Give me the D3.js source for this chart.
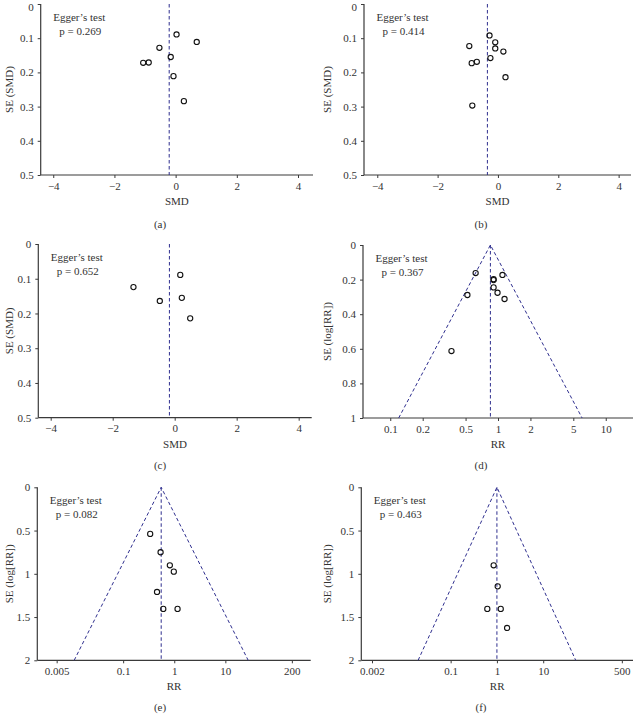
<!DOCTYPE html>
<html><head><meta charset="utf-8">
<script src="https://cdn.jsdelivr.net/npm/d3@7"></script>
<style>
html,body{margin:0;padding:0;background:#fff;}
svg text{font-family:"Liberation Serif","Times New Roman",serif;fill:#333;}
</style></head>
<body>
<svg id="c" width="635" height="714"></svg>
<script>
// ---- data ----
const panelLabels = ["(a)", "(b)", "(c)", "(d)", "(e)", "(f)"];
const eggerP = ["0.269", "0.414", "0.652", "0.367", "0.082", "0.463"];
const pooled = [-0.21, -0.35, -0.17, 0.85, 0.555, 1.0];

const aSMD = [0.03, 0.69, -0.53, -0.16, -1.06, -0.88, -0.07, 0.27];
const aSE  = [0.089, 0.111, 0.128, 0.155, 0.172, 0.171, 0.211, 0.284];
const bSMD = [-0.28, -0.09, -0.09, -0.95, 0.18, -0.25, -0.70, -0.87, 0.25, -0.85];
const bSE  = [0.092, 0.112, 0.130, 0.123, 0.139, 0.158, 0.169, 0.173, 0.214, 0.297];
const cSMD = [0.18, -1.33, 0.23, -0.48, 0.50];
const cSE  = [0.089, 0.124, 0.155, 0.164, 0.214];
const dRR  = [0.62, 1.10, 0.91, 0.91, 0.91, 0.99, 0.52, 1.15, 0.37];
const dSE  = [0.162, 0.173, 0.198, 0.203, 0.245, 0.276, 0.289, 0.312, 0.613];
const eRR  = [0.338, 0.54, 0.82, 0.98, 0.46, 0.61, 1.16];
const eSE  = [0.539, 0.751, 0.902, 0.975, 1.210, 1.406, 1.406];
const fRR  = [0.85, 1.04, 0.62, 1.21, 1.66];
const fSE  = [0.902, 1.145, 1.406, 1.406, 1.626];

const smdTicks = [-4, -2, 0, 2, 4];
const smdSETicks = [0, 0.1, 0.2, 0.3, 0.4, 0.5];
const dRRTicks = [0.1, 0.2, 0.5, 1, 2, 5, 10];
const eRRTicks = [0.005, 0.1, 1, 10, 200];
const fRRTicks = [0.002, 0.1, 1, 10, 500];
const dSETicks = [0, 0.2, 0.4, 0.6, 0.8, 1];
const efSETicks = [0, 0.5, 1, 1.5, 2];

// ---- layout ----
const layout = [
  {col:0,   axisX:40.7, top:4,     bottom:175,   right:313},
  {col:318, axisX:364,  top:4,     bottom:175,   right:631},
  {col:0,   axisX:38.3, top:244,   bottom:417.7, right:311.7},
  {col:318, axisX:363,  top:245,   bottom:418,   right:633},
  {col:0,   axisX:37.3, top:487.3, bottom:660.3, right:310.7},
  {col:318, axisX:361.3,top:487.3, bottom:660.3, right:633}
];

const panels = [
  {type:"smd", x:aSMD, se:aSE, xDom:[-4.41,4.49], xTicks:smdTicks, yMax:0.5, yTicks:smdSETicks, xLab:"SMD", yLab:"SE (SMD)"},
  {type:"smd", x:bSMD, se:bSE, xDom:[-4.44,4.41], xTicks:smdTicks, yMax:0.5, yTicks:smdSETicks, xLab:"SMD", yLab:"SE (SMD)"},
  {type:"smd", x:cSMD, se:cSE, xDom:[-4.40,4.42], xTicks:smdTicks, yMax:0.5, yTicks:smdSETicks, xLab:"SMD", yLab:"SE (SMD)"},
  {type:"rr", x:dRR, se:dSE, xDom:[Math.pow(10,-1.253),Math.pow(10,1.253)], xTicks:dRRTicks, yMax:1, yTicks:dSETicks, xLab:"RR", yLab:"SE (log[RR])"},
  {type:"rr", x:eRR, se:eSE, xDom:[Math.pow(10,-2.68),Math.pow(10,2.67)], xTicks:eRRTicks, yMax:2, yTicks:efSETicks, xLab:"RR", yLab:"SE (log[RR])"},
  {type:"rr", x:fRR, se:fSE, xDom:[Math.pow(10,-2.93),Math.pow(10,2.94)], xTicks:fRRTicks, yMax:2, yTicks:efSETicks, xLab:"RR", yLab:"SE (log[RR])"}
];

const svg = d3.select("#c");
const axisCol = "#3a3a3a";
const dashCol = "#2f2f8f";

panels.forEach((p, i) => {
  const L = layout[i];
  const g = svg.append("g");
  const x = (p.type === "smd" ? d3.scaleLinear() : d3.scaleLog()).domain(p.xDom).range([L.axisX, L.right]);
  const y = d3.scaleLinear().domain([0, p.yMax]).range([L.top, L.bottom]);

  // x axis
  const xa = d3.axisBottom(x).tickValues(p.xTicks).tickSize(3).tickPadding(4)
    .tickFormat(p.type === "smd" ? d3.format("d") : (d => String(d)));
  const gx = g.append("g").attr("transform", `translate(0,${L.bottom})`).call(xa);
  // y axis
  const ya = d3.axisLeft(y).tickValues(p.yTicks).tickSize(3).tickPadding(4).tickFormat(d => String(d));
  const gy = g.append("g").attr("transform", `translate(${L.axisX},0)`).call(ya);
  [gx, gy].forEach(a => {
    a.select(".domain").attr("stroke", axisCol).attr("stroke-width", 1.2);
    a.selectAll(".tick line").attr("stroke", axisCol);
    a.selectAll(".tick text").attr("font-size", 11).attr("fill", "#333")
      .attr("font-family", '"Liberation Serif","Times New Roman",serif');
  });
  gy.selectAll(".tick text").filter(d => y(d) < 8).attr("dy", "0.55em");
  gx.select(".domain").attr("d", `M${L.axisX},0H${L.right}`);
  gy.select(".domain").attr("d", `M0,${L.top}V${L.bottom}`);

  // reference line & funnel
  const c = pooled[i];
  g.append("line").attr("x1", x(c)).attr("x2", x(c)).attr("y1", y(0)).attr("y2", y(p.yMax))
    .attr("stroke", dashCol).attr("stroke-width", 1).attr("stroke-dasharray", "3.5,2.5");
  if (p.type === "rr") {
    const half = Math.exp(1.96 * p.yMax);
    const pts = [[c / half, p.yMax], [c, 0], [c * half, p.yMax]];
    g.append("path").attr("d", d3.line().x(d => x(d[0])).y(d => y(d[1]))(pts))
      .attr("fill", "none").attr("stroke", dashCol).attr("stroke-width", 1).attr("stroke-dasharray", "3.5,2.5");
  }

  // points
  g.selectAll("circle.pt").data(p.x.map((v, k) => [v, p.se[k]])).join("circle")
    .attr("class", "pt").attr("cx", d => x(d[0])).attr("cy", d => y(d[1])).attr("r", 2.6)
    .attr("fill", "none").attr("stroke", "#111").attr("stroke-width", 1.1);

  // Egger text
  g.append("text").attr("x", L.axisX + 12.5).attr("y", L.top + 17).attr("font-size", 11).text("Egger\u2019s test");
  g.append("text").attr("x", L.axisX + 18.5).attr("y", L.top + 31).attr("font-size", 11).text("p = " + eggerP[i]);

  // axis titles
  g.append("text").attr("x", (L.axisX + L.right) / 2).attr("y", L.bottom + 30).attr("text-anchor", "middle")
    .attr("font-size", 11).text(p.xLab);
  const ymid = (L.top + L.bottom) / 2;
  g.append("text").attr("transform", `translate(${L.col + 13},${ymid}) rotate(-90)`).attr("text-anchor", "middle")
    .attr("font-size", 11).text(p.yLab);
  g.append("text").attr("x", L.col + (L.col === 0 ? 160 : 163)).attr("y", L.bottom + (i < 2 ? 53 : 51)).attr("text-anchor", "middle")
    .attr("font-size", 11).text(panelLabels[i]);
});
</script>
</body></html>
